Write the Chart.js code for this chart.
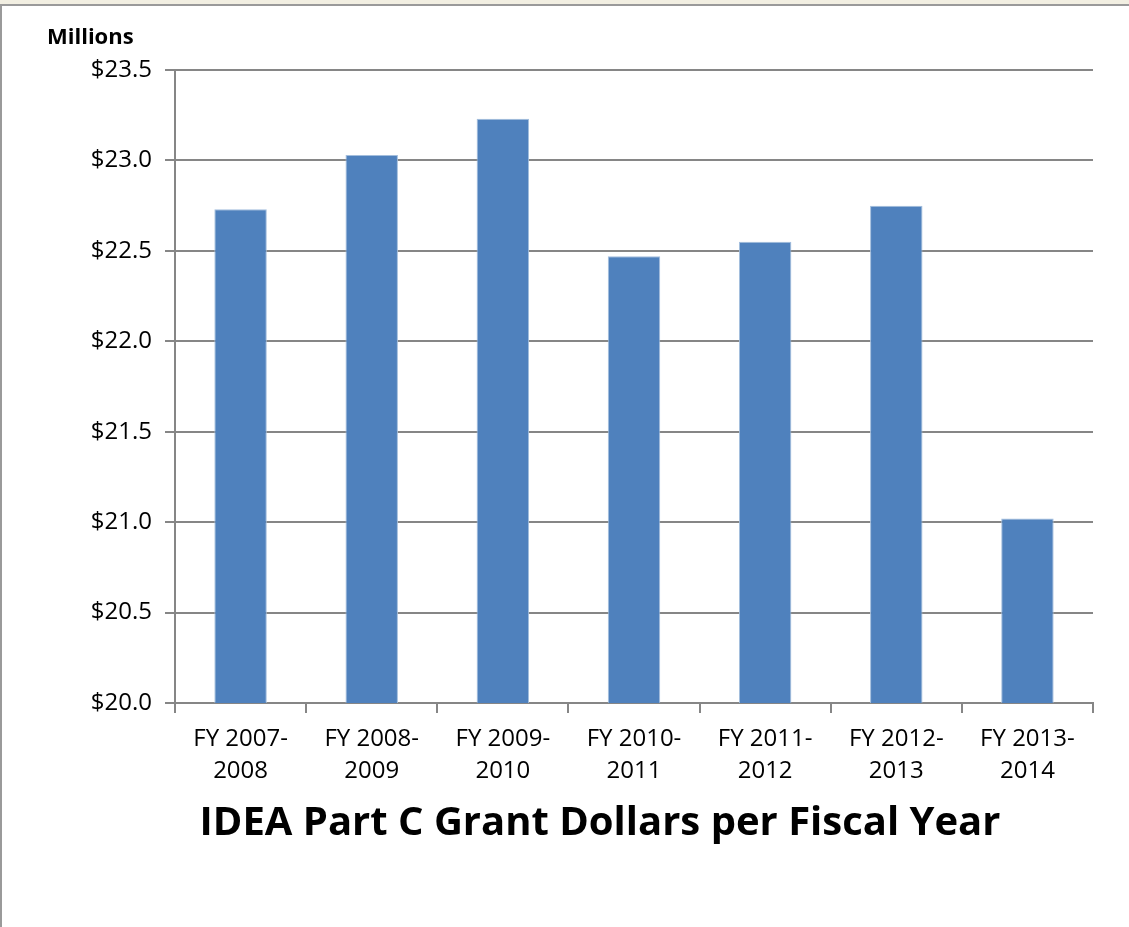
<!DOCTYPE html>
<html>
<head>
<meta charset="utf-8">
<title>IDEA Part C Grant Dollars per Fiscal Year</title>
<script src="https://cdn.jsdelivr.net/npm/chart.js@4.4.1/dist/chart.umd.min.js"></script>
<style>
  html, body { margin: 0; padding: 0; background: #F2EFE2; overflow: hidden; }
  #frame {
    position: absolute; left: 0; top: 4px;
    width: 1127px; height: 921px;
    border-top: 2px solid #9A9A9A; border-left: 2px solid #9A9A9A;
    background: #FFFFFF;
  }
  #chart { display: block; }
</style>
</head>
<body>
<div id="frame"><canvas id="chart" width="1127" height="921"></canvas></div>
<script>
// Fiscal years (two-line labels) and grant amounts in millions of dollars
const fiscalYears = [
  ['FY 2007-', '2008'],
  ['FY 2008-', '2009'],
  ['FY 2009-', '2010'],
  ['FY 2010-', '2011'],
  ['FY 2011-', '2012'],
  ['FY 2012-', '2013'],
  ['FY 2013-', '2014']
];
const grantMillions = [22.73, 23.03, 23.23, 22.47, 22.55, 22.75, 21.02];
const yTicks = [20.0, 20.5, 21.0, 21.5, 22.0, 22.5, 23.0, 23.5];

const FONT = "'Open Sans', 'DejaVu Sans', sans-serif";
const GRID = '#868686';

// Centre the bottom title a little right of the canvas middle,
// over the plot rather than over the whole frame.
const titleShift = {
  id: 'titleShift',
  afterLayout(chart) {
    const t = chart.titleBlock;
    if (t) { t.left += 30; t.right += 30; }
  }
};

new Chart(document.getElementById('chart'), {
  type: 'bar',
  data: {
    labels: fiscalYears,
    datasets: [{
      data: grantMillions,
      backgroundColor: '#4F81BD',
      borderColor: '#A3BEDD',
      borderWidth: 1,
      borderSkipped: 'bottom',
      barPercentage: 0.4,
      categoryPercentage: 1.0
    }]
  },
  plugins: [titleShift],
  options: {
    responsive: false,
    animation: false,
    events: [],
    layout: { padding: { left: 45, right: 36, top: 0, bottom: 0 } },
    plugins: {
      legend: { display: false },
      tooltip: { enabled: false },
      subtitle: {
        display: true,
        text: 'Millions',
        position: 'top',
        align: 'start',
        color: '#000000',
        font: { family: FONT, size: 22, weight: 'bold', lineHeight: 1.2 },
        padding: { top: 19, bottom: 18.6 }
      },
      title: {
        display: true,
        text: 'IDEA Part C Grant Dollars per Fiscal Year',
        position: 'bottom',
        align: 'center',
        color: '#000000',
        font: { family: FONT, size: 40, weight: 'bold', lineHeight: 1.2 },
        padding: { top: 17, bottom: 79 }
      }
    },
    scales: {
      x: {
        offset: true,
        grid: {
          offset: true,
          drawOnChartArea: false,
          drawTicks: true,
          tickLength: 10,
          tickWidth: 2,
          tickColor: GRID,
          color: GRID,
          lineWidth: 2
        },
        border: { display: true, color: GRID, width: 2 },
        ticks: {
          color: '#000000',
          maxRotation: 0,
          autoSkip: false,
          padding: 10,
          font: { family: FONT, size: 24, lineHeight: 1.35 }
        },
        afterFit(scale) { scale.height = 80; }
      },
      y: {
        min: yTicks[0],
        max: yTicks[yTicks.length - 1],
        afterBuildTicks(scale) { scale.ticks = yTicks.map(v => ({ value: v })); },
        grid: {
          drawOnChartArea: true,
          drawTicks: true,
          tickLength: 10,
          color: GRID,
          lineWidth: 2,
          tickColor: GRID,
          tickWidth: 2
        },
        border: { display: true, color: GRID, width: 2 },
        ticks: {
          color: '#000000',
          padding: 13,
          font: { family: FONT, size: 24 },
          callback: v => '$' + Number(v).toFixed(1)
        },
        afterFit(scale) { scale.width = 128; }
      }
    }
  }
});
</script>
</body>
</html>
